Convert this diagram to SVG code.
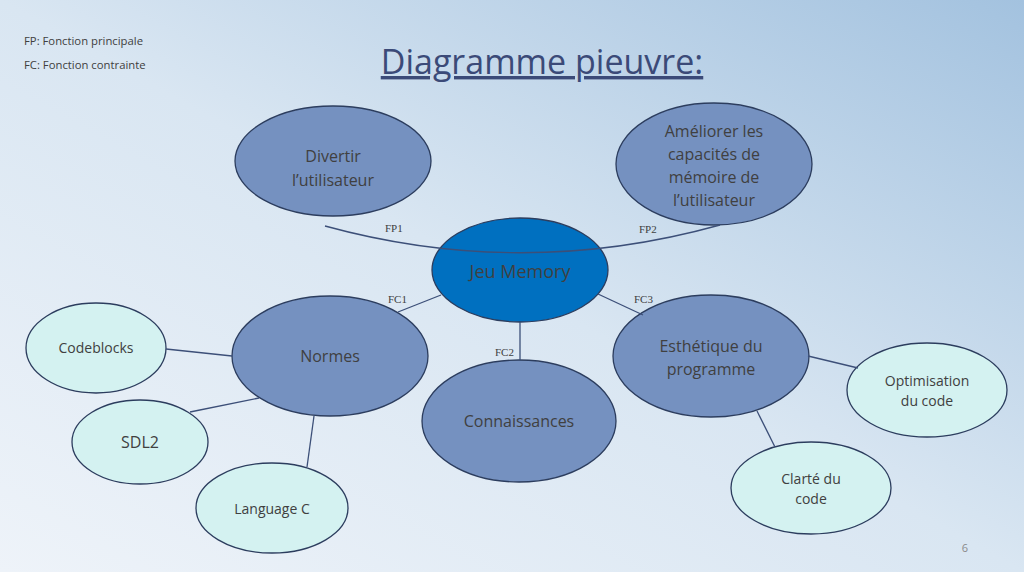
<svg xmlns="http://www.w3.org/2000/svg" width="1024" height="572" viewBox="0 0 1024 572">
<defs>
<linearGradient id="bg" x1="0" y1="1" x2="1" y2="0">
<stop offset="0" stop-color="#eef3f9"/>
<stop offset="0.5" stop-color="#d9e6f2"/>
<stop offset="1" stop-color="#a3c2df"/>
</linearGradient>
<style>
.main{fill:#7591c0;stroke:#2c3d5e;stroke-width:1.3}
.core{fill:#0070c0;stroke:#2c3d5e;stroke-width:1.3}
.sub{fill:#d4f2f1;stroke:#2c3d5e;stroke-width:1.3}
.t{font-family:"Open Sans","Liberation Sans",sans-serif;fill:#404040;text-anchor:middle}
.lbl{font-family:"Liberation Serif",serif;font-size:11px;fill:#404040}
.edge{stroke:#3c4f78;stroke-width:1.3;fill:none}
</style>
</defs>
<rect width="1024" height="572" fill="url(#bg)"/>
<text x="24" y="45" font-family="'Open Sans','Liberation Sans',sans-serif" font-size="11.3" fill="#404040">FP: Fonction principale</text>
<text x="24" y="69" font-family="'Open Sans','Liberation Sans',sans-serif" font-size="11.3" fill="#404040">FC: Fonction contrainte</text>
<text x="542" y="74" font-family="'Open Sans','Liberation Sans',sans-serif" font-size="34" fill="#3b4a78" text-anchor="middle" text-decoration="underline">Diagramme pieuvre:</text>
<text x="965" y="552" font-family="'Open Sans','Liberation Sans',sans-serif" font-size="11" fill="#8a8a8a" text-anchor="middle">6</text>

<g id="n-divertir"><ellipse class="main" cx="333" cy="161" rx="98" ry="55"/>
<text class="t" x="333" font-size="16"><tspan x="333" y="162">Divertir</tspan><tspan x="333" y="186">l’utilisateur</tspan></text></g>
<g id="n-ameliorer"><ellipse class="main" cx="714" cy="164" rx="98" ry="61"/>
<text class="t" font-size="16"><tspan x="714" y="137">Améliorer les</tspan><tspan x="714" y="160">capacités de</tspan><tspan x="714" y="183">mémoire de</tspan><tspan x="714" y="206">l’utilisateur</tspan></text></g>
<g id="n-jeu"><ellipse class="core" cx="520" cy="270" rx="88" ry="52"/>
<text class="t" x="520" y="278" font-size="18">Jeu Memory</text></g>
<g id="n-normes"><ellipse class="main" cx="330" cy="356" rx="98" ry="60"/>
<text class="t" x="330" y="362" font-size="16">Normes</text></g>
<g id="n-connaissances"><ellipse class="main" cx="519" cy="421" rx="97" ry="61"/>
<text class="t" x="519" y="427" font-size="16">Connaissances</text></g>
<g id="n-esthetique"><ellipse class="main" cx="711" cy="356" rx="98" ry="61"/>
<text class="t" font-size="16"><tspan x="711" y="352">Esthétique du</tspan><tspan x="711" y="375">programme</tspan></text></g>
<g id="n-codeblocks"><ellipse class="sub" cx="96" cy="348" rx="70" ry="45"/>
<text class="t" x="96" y="353" font-size="14">Codeblocks</text></g>
<g id="n-sdl"><ellipse class="sub" cx="140" cy="442" rx="68" ry="42"/>
<text class="t" x="140" y="448" font-size="16">SDL2</text></g>
<g id="n-langc"><ellipse class="sub" cx="272" cy="508" rx="76" ry="45"/>
<text class="t" x="272" y="514" font-size="14">Language C</text></g>
<g id="n-optim"><ellipse class="sub" cx="927" cy="390" rx="80" ry="47"/>
<text class="t" font-size="14"><tspan x="927" y="386">Optimisation</tspan><tspan x="927" y="406">du code</tspan></text></g>
<g id="n-clarte"><ellipse class="sub" cx="811" cy="488" rx="80" ry="46"/>
<text class="t" font-size="14"><tspan x="811" y="484">Clarté du</tspan><tspan x="811" y="504">code</tspan></text></g>

<g id="connectors">
<path class="edge" d="M325 226 Q522 280 720 225"/>
<line class="edge" x1="398" y1="312" x2="441" y2="295"/>
<line class="edge" x1="520" y1="322" x2="520" y2="360"/>
<line class="edge" x1="598" y1="294" x2="643" y2="315"/>
<line class="edge" x1="166" y1="349" x2="232" y2="356"/>
<line class="edge" x1="190" y1="412" x2="259" y2="398"/>
<line class="edge" x1="314" y1="416" x2="307" y2="467"/>
<line class="edge" x1="808" y1="356" x2="858" y2="368"/>
<line class="edge" x1="757" y1="411" x2="775" y2="447"/>
<text class="lbl" x="385" y="232">FP1</text>
<text class="lbl" x="639" y="233">FP2</text>
<text class="lbl" x="388" y="303">FC1</text>
<text class="lbl" x="495" y="356">FC2</text>
<text class="lbl" x="634" y="303">FC3</text>
</g>
</svg>
